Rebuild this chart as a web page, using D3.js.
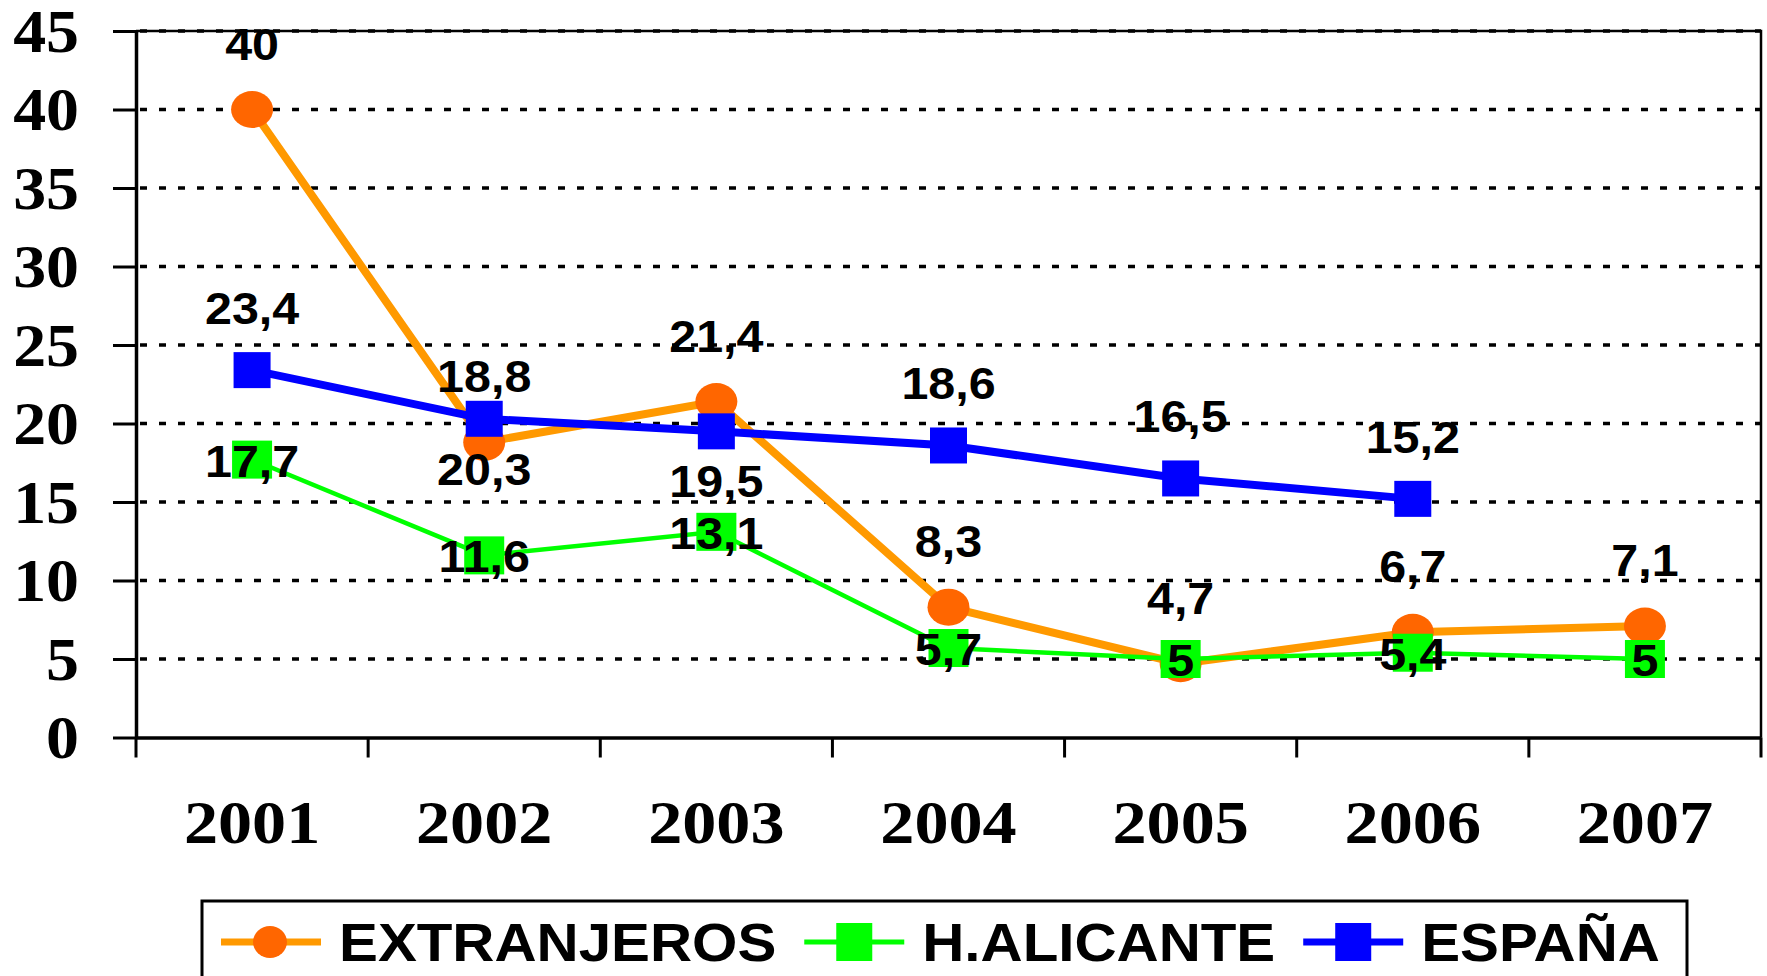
<!DOCTYPE html>
<html>
<head>
<meta charset="utf-8">
<script src="https://cdn.jsdelivr.net/npm/d3@7"></script>
<style>
body { margin: 0; background: #fff; }
svg { display: block; }
</style>
</head>
<body>
<svg></svg>
<script>
var years = ["2001", "2002", "2003", "2004", "2005", "2006", "2007"];
var extranjeros = [40, 18.8, 21.4, 8.3, 4.7, 6.7, 7.1];
var hAlicante = [17.7, 11.6, 13.1, 5.7, 5, 5.4, 5];
var espana = [23.4, 20.3, 19.5, 18.6, 16.5, 15.2];
var yTicks = [0, 5, 10, 15, 20, 25, 30, 35, 40, 45];
var seriesNames = ["EXTRANJEROS", "H.ALICANTE", "ESPAÑA"];
// which ESPAÑA labels sit under the point
var espanaBelow = [false, true, true, false, false, false];

var width = 1767, height = 976;
var plotLeft = 136, plotRight = 1761, plotTop = 31, plotBottom = 737.5;

var svg = d3.select("svg")
  .attr("width", width)
  .attr("height", height);

var x = d3.scaleBand().domain(years).range([plotLeft, plotRight]);
var y = d3.scaleLinear().domain([0, 45]).range([plotBottom, plotTop]);
var cx = function(i) { return x(years[i]) + x.bandwidth() / 2; };
var fmt = function(v) { return String(v).replace(".", ","); };

// grid
svg.append("g").selectAll("line")
  .data(yTicks.filter(function(d) { return d > 0; }))
  .enter().append("line")
  .attr("x1", plotLeft + 4).attr("x2", plotRight)
  .attr("y1", function(d) { return y(d); })
  .attr("y2", function(d) { return y(d); })
  .attr("stroke", "#000")
  .attr("stroke-width", 3.3)
  .attr("stroke-dasharray", "7,12");

// plot border top + right
svg.append("path")
  .attr("d", "M" + plotLeft + "," + plotTop + "H" + plotRight + "V" + plotBottom)
  .attr("fill", "none")
  .attr("stroke", "#000")
  .attr("stroke-width", 2.5);

// y axis
var yAxis = svg.append("g")
  .attr("transform", "translate(" + plotLeft + ",0)")
  .call(d3.axisLeft(y).tickValues(yTicks).tickSize(23).tickSizeOuter(0));
yAxis.select(".domain").attr("stroke-width", 3.5);
yAxis.selectAll(".tick line").attr("stroke-width", 3);
yAxis.selectAll(".tick text")
  .attr("x", 0).attr("dy", null)
  .attr("transform", "translate(-57,20) scale(1.08,1)")
  .attr("font-family", "'Liberation Serif', 'Times New Roman', serif")
  .attr("font-weight", "bold")
  .attr("font-size", 61)
  .attr("fill", "#000");

// x axis
var xAxis = svg.append("g")
  .attr("transform", "translate(0," + plotBottom + ")")
  .call(d3.axisBottom(x).tickSize(0).tickSizeOuter(0));
xAxis.select(".domain").attr("stroke-width", 3.5);
xAxis.selectAll(".tick text")
  .attr("y", 0).attr("dy", null)
  .attr("transform", "translate(0,105) scale(1.1,1)")
  .attr("font-family", "'Liberation Serif', 'Times New Roman', serif")
  .attr("font-weight", "bold")
  .attr("font-size", 62)
  .attr("fill", "#000");

var edges = years.map(function(d) { return x(d); }).concat([plotRight]);
svg.append("g").selectAll("line")
  .data(edges)
  .enter().append("line")
  .attr("x1", function(d) { return d; })
  .attr("x2", function(d) { return d; })
  .attr("y1", plotBottom).attr("y2", plotBottom + 20)
  .attr("stroke", "#000")
  .attr("stroke-width", 3);

var line = d3.line()
  .x(function(d, i) { return cx(i); })
  .y(function(d) { return y(d); });

// EXTRANJEROS
svg.append("path").datum(extranjeros)
  .attr("d", line)
  .attr("fill", "none")
  .attr("stroke", "#FF9900")
  .attr("stroke-width", 8);
svg.append("g").selectAll("ellipse")
  .data(extranjeros)
  .enter().append("ellipse")
  .attr("cx", function(d, i) { return cx(i); })
  .attr("cy", function(d) { return y(d); })
  .attr("rx", 21).attr("ry", 18.5)
  .attr("fill", "#FF6600");

// H.ALICANTE
svg.append("path").datum(hAlicante)
  .attr("d", line)
  .attr("fill", "none")
  .attr("stroke", "#00FF00")
  .attr("stroke-width", 4.5);
svg.append("g").selectAll("rect")
  .data(hAlicante)
  .enter().append("rect")
  .attr("x", function(d, i) { return cx(i) - 20; })
  .attr("y", function(d) { return y(d) - 19; })
  .attr("width", 40).attr("height", 38)
  .attr("fill", "#00FF00");

// ESPAÑA
svg.append("path").datum(espana)
  .attr("d", line)
  .attr("fill", "none")
  .attr("stroke", "#0000FF")
  .attr("stroke-width", 8);
svg.append("g").selectAll("rect")
  .data(espana)
  .enter().append("rect")
  .attr("x", function(d, i) { return cx(i) - 18.5; })
  .attr("y", function(d) { return y(d) - 18; })
  .attr("width", 37).attr("height", 36)
  .attr("fill", "#0000FF");

// value labels
var labelFont = "'Liberation Sans', Arial, sans-serif";
function labels(data, dyFn) {
  svg.append("g").selectAll("text")
    .data(data)
    .enter().append("text")
    .attr("transform", function(d, i) {
      return "translate(" + cx(i) + "," + (y(d) + dyFn(d, i)) + ") scale(1.1,1)";
    })
    .attr("text-anchor", "middle")
    .attr("font-family", labelFont)
    .attr("font-weight", "bold")
    .attr("font-size", 44)
    .attr("fill", "#000")
    .text(fmt);
}
labels(extranjeros, function() { return -50; });
labels(espana, function(d, i) { return espanaBelow[i] ? 66 : -46; });
labels(hAlicante, function() { return 17; });

// legend
var legend = svg.append("g");
legend.append("rect")
  .attr("x", 202).attr("y", 901)
  .attr("width", 1485).attr("height", 110)
  .attr("fill", "#fff")
  .attr("stroke", "#000")
  .attr("stroke-width", 3);

var colors = ["#FF9900", "#00FF00", "#0000FF"];
var markColors = ["#FF6600", "#00FF00", "#0000FF"];
var lw = [7, 5, 7];
var lx = 221, ly = 942;
seriesNames.forEach(function(name, k) {
  legend.append("line")
    .attr("x1", lx).attr("x2", lx + 100)
    .attr("y1", ly).attr("y2", ly)
    .attr("stroke", colors[k])
    .attr("stroke-width", lw[k]);
  if (k === 0) {
    legend.append("ellipse")
      .attr("cx", lx + 49).attr("cy", ly)
      .attr("rx", 17).attr("ry", 16)
      .attr("fill", markColors[k]);
  } else {
    legend.append("rect")
      .attr("x", lx + 50 - 18).attr("y", ly - 19)
      .attr("width", 36).attr("height", 38)
      .attr("fill", markColors[k]);
  }
  var t = legend.append("text")
    .attr("transform", "translate(" + (lx + 118) + "," + (ly + 19) + ") scale(1.1,1)")
    .attr("font-family", labelFont)
    .attr("font-weight", "bold")
    .attr("font-size", 53)
    .attr("fill", "#000")
    .text(name);
  var w = t.node().getComputedTextLength() * 1.1;
  lx = lx + 118 + w + 28;
});
</script>
</body>
</html>
